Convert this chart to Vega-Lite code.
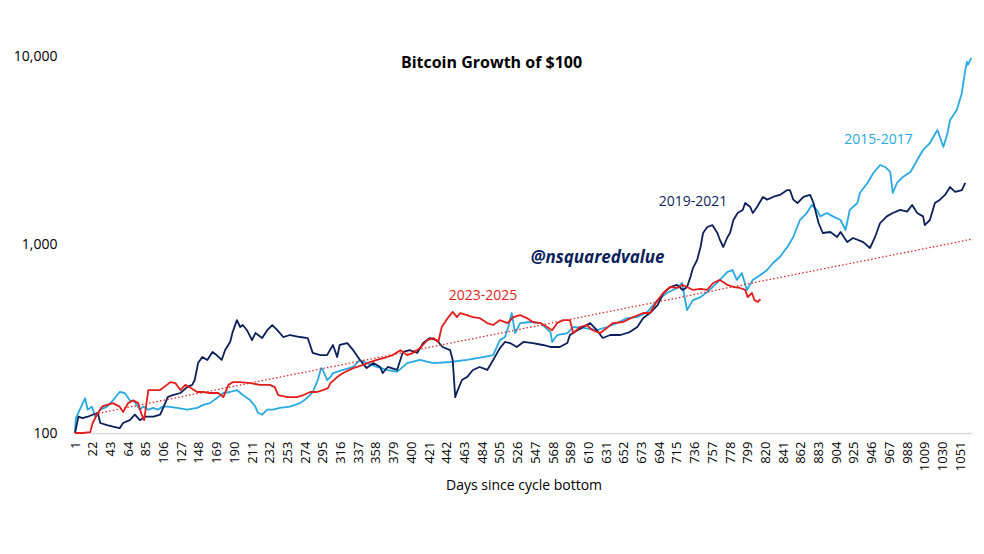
{
"$schema": "https://vega.github.io/schema/vega-lite/v6.json",
"width": 897, "height": 377,
"autosize": {"type": "none"},
"padding": {"left": 75, "top": 56, "right": 12, "bottom": 121},
"background": "white",
"config": {"view": {"stroke": null}, "font": "Open Sans", "axis": {"grid": false}},
"title": {"text": "Bitcoin Growth of $100", "anchor": "middle", "fontSize": 16, "fontWeight": "bold", "color": "#000000", "offset": -30, "dx": -32, "baseline": "middle", "font": "Open Sans"},
"datasets": {
"trend": [{"day": 20, "value": 125}, {"day": 1065, "value": 1067}],
"labels": [
{"label": "2015-2017", "series": "2015-2017", "day": 954, "value": 3570},
{"label": "2019-2021", "series": "2019-2021", "day": 734, "value": 1683},
{"label": "2023-2025", "series": "2023-2025", "day": 485, "value": 533}
],
"brand": [{"label": "@nsquaredvalue", "day": 621, "value": 848}],
"lines": [
{"series":"2015-2017","day":1,"value":100},{"series":"2015-2017","day":2,"value":120},{"series":"2015-2017","day":13,"value":153},{"series":"2015-2017","day":16,"value":133},{"series":"2015-2017","day":21,"value":138},{"series":"2015-2017","day":25,"value":122},{"series":"2015-2017","day":31,"value":133},{"series":"2015-2017","day":39,"value":138},{"series":"2015-2017","day":46,"value":149},{"series":"2015-2017","day":54,"value":165},{"series":"2015-2017","day":60,"value":163},{"series":"2015-2017","day":66,"value":149},{"series":"2015-2017","day":72,"value":146},{"series":"2015-2017","day":78,"value":133},{"series":"2015-2017","day":82,"value":138},{"series":"2015-2017","day":88,"value":133},{"series":"2015-2017","day":94,"value":136},{"series":"2015-2017","day":99,"value":133},{"series":"2015-2017","day":105,"value":138},{"series":"2015-2017","day":111,"value":138},{"series":"2015-2017","day":122,"value":136},{"series":"2015-2017","day":134,"value":133},{"series":"2015-2017","day":146,"value":136},{"series":"2015-2017","day":153,"value":141},{"series":"2015-2017","day":161,"value":144},{"series":"2015-2017","day":169,"value":153},{"series":"2015-2017","day":177,"value":163},{"series":"2015-2017","day":185,"value":165},{"series":"2015-2017","day":193,"value":169},{"series":"2015-2017","day":200,"value":159},{"series":"2015-2017","day":209,"value":149},{"series":"2015-2017","day":215,"value":138},{"series":"2015-2017","day":218,"value":128},{"series":"2015-2017","day":223,"value":125},{"series":"2015-2017","day":229,"value":133},{"series":"2015-2017","day":236,"value":133},{"series":"2015-2017","day":244,"value":136},{"series":"2015-2017","day":256,"value":138},{"series":"2015-2017","day":268,"value":144},{"series":"2015-2017","day":276,"value":153},{"series":"2015-2017","day":283,"value":165},{"series":"2015-2017","day":289,"value":191},{"series":"2015-2017","day":293,"value":221},{"series":"2015-2017","day":295,"value":216},{"series":"2015-2017","day":300,"value":191},{"series":"2015-2017","day":304,"value":198},{"series":"2015-2017","day":307,"value":208},{"series":"2015-2017","day":319,"value":216},{"series":"2015-2017","day":331,"value":224},{"series":"2015-2017","day":339,"value":244},{"series":"2015-2017","day":347,"value":235},{"series":"2015-2017","day":359,"value":224},{"series":"2015-2017","day":371,"value":216},{"series":"2015-2017","day":383,"value":211},{"series":"2015-2017","day":395,"value":235},{"series":"2015-2017","day":410,"value":244},{"series":"2015-2017","day":426,"value":235},{"series":"2015-2017","day":446,"value":238},{"series":"2015-2017","day":466,"value":244},{"series":"2015-2017","day":485,"value":253},{"series":"2015-2017","day":497,"value":259},{"series":"2015-2017","day":505,"value":311},{"series":"2015-2017","day":511,"value":323},{"series":"2015-2017","day":515,"value":365},{"series":"2015-2017","day":519,"value":433},{"series":"2015-2017","day":523,"value":339},{"series":"2015-2017","day":529,"value":383},{"series":"2015-2017","day":541,"value":388},{"series":"2015-2017","day":553,"value":383},{"series":"2015-2017","day":565,"value":343},{"series":"2015-2017","day":567,"value":304},{"series":"2015-2017","day":573,"value":331},{"series":"2015-2017","day":585,"value":339},{"series":"2015-2017","day":592,"value":365},{"series":"2015-2017","day":604,"value":361},{"series":"2015-2017","day":620,"value":351},{"series":"2015-2017","day":632,"value":365},{"series":"2015-2017","day":644,"value":383},{"series":"2015-2017","day":656,"value":407},{"series":"2015-2017","day":668,"value":412},{"series":"2015-2017","day":680,"value":439},{"series":"2015-2017","day":692,"value":507},{"series":"2015-2017","day":703,"value":553},{"series":"2015-2017","day":715,"value":588},{"series":"2015-2017","day":721,"value":625},{"series":"2015-2017","day":727,"value":449},{"series":"2015-2017","day":734,"value":507},{"series":"2015-2017","day":743,"value":526},{"series":"2015-2017","day":754,"value":574},{"series":"2015-2017","day":766,"value":649},{"series":"2015-2017","day":775,"value":715},{"series":"2015-2017","day":781,"value":732},{"series":"2015-2017","day":786,"value":649},{"series":"2015-2017","day":792,"value":706},{"series":"2015-2017","day":798,"value":574},{"series":"2015-2017","day":805,"value":649},{"series":"2015-2017","day":814,"value":689},{"series":"2015-2017","day":822,"value":732},{"series":"2015-2017","day":829,"value":798},{"series":"2015-2017","day":837,"value":858},{"series":"2015-2017","day":846,"value":970},{"series":"2015-2017","day":853,"value":1096},{"series":"2015-2017","day":861,"value":1349},{"series":"2015-2017","day":869,"value":1469},{"series":"2015-2017","day":875,"value":1620},{"series":"2015-2017","day":881,"value":1525},{"series":"2015-2017","day":885,"value":1410},{"series":"2015-2017","day":893,"value":1469},{"series":"2015-2017","day":900,"value":1410},{"series":"2015-2017","day":909,"value":1349},{"series":"2015-2017","day":915,"value":1194},{"series":"2015-2017","day":920,"value":1525},{"series":"2015-2017","day":929,"value":1660},{"series":"2015-2017","day":932,"value":1876},{"series":"2015-2017","day":941,"value":2120},{"series":"2015-2017","day":948,"value":2395},{"series":"2015-2017","day":956,"value":2640},{"series":"2015-2017","day":962,"value":2578},{"series":"2015-2017","day":968,"value":2425},{"series":"2015-2017","day":971,"value":1876},{"series":"2015-2017","day":976,"value":2120},{"series":"2015-2017","day":983,"value":2281},{"series":"2015-2017","day":992,"value":2425},{"series":"2015-2017","day":1000,"value":2808},{"series":"2015-2017","day":1007,"value":3172},{"series":"2015-2017","day":1015,"value":3455},{"series":"2015-2017","day":1024,"value":4050},{"series":"2015-2017","day":1027,"value":3720},{"series":"2015-2017","day":1031,"value":3290},{"series":"2015-2017","day":1036,"value":3904},{"series":"2015-2017","day":1039,"value":4580},{"series":"2015-2017","day":1047,"value":5170},{"series":"2015-2017","day":1053,"value":6365},{"series":"2015-2017","day":1057,"value":8430},{"series":"2015-2017","day":1059,"value":9300},{"series":"2015-2017","day":1060,"value":8980},{"series":"2015-2017","day":1064,"value":9760},
{"series":"2019-2021","day":1,"value":100},{"series":"2019-2021","day":5,"value":122},{"series":"2019-2021","day":10,"value":120},{"series":"2019-2021","day":16,"value":122},{"series":"2019-2021","day":22,"value":125},{"series":"2019-2021","day":28,"value":128},{"series":"2019-2021","day":31,"value":113},{"series":"2019-2021","day":39,"value":110},{"series":"2019-2021","day":46,"value":108},{"series":"2019-2021","day":54,"value":106},{"series":"2019-2021","day":58,"value":113},{"series":"2019-2021","day":66,"value":117},{"series":"2019-2021","day":72,"value":125},{"series":"2019-2021","day":78,"value":117},{"series":"2019-2021","day":84,"value":122},{"series":"2019-2021","day":94,"value":122},{"series":"2019-2021","day":102,"value":125},{"series":"2019-2021","day":108,"value":144},{"series":"2019-2021","day":111,"value":155},{"series":"2019-2021","day":117,"value":159},{"series":"2019-2021","day":126,"value":163},{"series":"2019-2021","day":134,"value":175},{"series":"2019-2021","day":140,"value":180},{"series":"2019-2021","day":143,"value":191},{"series":"2019-2021","day":147,"value":235},{"series":"2019-2021","day":152,"value":253},{"series":"2019-2021","day":158,"value":244},{"series":"2019-2021","day":164,"value":269},{"series":"2019-2021","day":169,"value":259},{"series":"2019-2021","day":175,"value":244},{"series":"2019-2021","day":179,"value":275},{"series":"2019-2021","day":185,"value":304},{"series":"2019-2021","day":188,"value":343},{"series":"2019-2021","day":193,"value":397},{"series":"2019-2021","day":197,"value":365},{"series":"2019-2021","day":200,"value":374},{"series":"2019-2021","day":205,"value":351},{"series":"2019-2021","day":211,"value":311},{"series":"2019-2021","day":215,"value":339},{"series":"2019-2021","day":223,"value":319},{"series":"2019-2021","day":229,"value":351},{"series":"2019-2021","day":235,"value":374},{"series":"2019-2021","day":241,"value":351},{"series":"2019-2021","day":248,"value":323},{"series":"2019-2021","day":256,"value":331},{"series":"2019-2021","day":268,"value":323},{"series":"2019-2021","day":277,"value":319},{"series":"2019-2021","day":283,"value":266},{"series":"2019-2021","day":292,"value":259},{"series":"2019-2021","day":300,"value":259},{"series":"2019-2021","day":307,"value":293},{"series":"2019-2021","day":312,"value":253},{"series":"2019-2021","day":315,"value":293},{"series":"2019-2021","day":324,"value":300},{"series":"2019-2021","day":331,"value":275},{"series":"2019-2021","day":339,"value":244},{"series":"2019-2021","day":347,"value":221},{"series":"2019-2021","day":355,"value":235},{"series":"2019-2021","day":363,"value":224},{"series":"2019-2021","day":366,"value":208},{"series":"2019-2021","day":372,"value":224},{"series":"2019-2021","day":383,"value":216},{"series":"2019-2021","day":390,"value":269},{"series":"2019-2021","day":398,"value":275},{"series":"2019-2021","day":407,"value":266},{"series":"2019-2021","day":414,"value":300},{"series":"2019-2021","day":422,"value":319},{"series":"2019-2021","day":430,"value":311},{"series":"2019-2021","day":437,"value":286},{"series":"2019-2021","day":446,"value":275},{"series":"2019-2021","day":449,"value":244},{"series":"2019-2021","day":452,"value":155},{"series":"2019-2021","day":455,"value":169},{"series":"2019-2021","day":460,"value":191},{"series":"2019-2021","day":466,"value":198},{"series":"2019-2021","day":473,"value":216},{"series":"2019-2021","day":481,"value":224},{"series":"2019-2021","day":490,"value":216},{"series":"2019-2021","day":497,"value":244},{"series":"2019-2021","day":505,"value":282},{"series":"2019-2021","day":511,"value":304},{"series":"2019-2021","day":517,"value":300},{"series":"2019-2021","day":525,"value":286},{"series":"2019-2021","day":533,"value":304},{"series":"2019-2021","day":544,"value":300},{"series":"2019-2021","day":556,"value":293},{"series":"2019-2021","day":565,"value":286},{"series":"2019-2021","day":576,"value":286},{"series":"2019-2021","day":585,"value":300},{"series":"2019-2021","day":588,"value":331},{"series":"2019-2021","day":597,"value":351},{"series":"2019-2021","day":604,"value":365},{"series":"2019-2021","day":612,"value":383},{"series":"2019-2021","day":620,"value":351},{"series":"2019-2021","day":627,"value":319},{"series":"2019-2021","day":636,"value":331},{"series":"2019-2021","day":648,"value":331},{"series":"2019-2021","day":659,"value":343},{"series":"2019-2021","day":668,"value":365},{"series":"2019-2021","day":675,"value":407},{"series":"2019-2021","day":683,"value":433},{"series":"2019-2021","day":692,"value":477},{"series":"2019-2021","day":699,"value":553},{"series":"2019-2021","day":707,"value":595},{"series":"2019-2021","day":715,"value":610},{"series":"2019-2021","day":722,"value":574},{"series":"2019-2021","day":727,"value":595},{"series":"2019-2021","day":731,"value":672},{"series":"2019-2021","day":734,"value":750},{"series":"2019-2021","day":739,"value":828},{"series":"2019-2021","day":743,"value":970},{"series":"2019-2021","day":746,"value":1151},{"series":"2019-2021","day":751,"value":1238},{"series":"2019-2021","day":757,"value":1268},{"series":"2019-2021","day":763,"value":1151},{"series":"2019-2021","day":766,"value":1057},{"series":"2019-2021","day":770,"value":970},{"series":"2019-2021","day":775,"value":1096},{"series":"2019-2021","day":778,"value":1151},{"series":"2019-2021","day":782,"value":1349},{"series":"2019-2021","day":787,"value":1469},{"series":"2019-2021","day":793,"value":1525},{"series":"2019-2021","day":796,"value":1660},{"series":"2019-2021","day":802,"value":1580},{"series":"2019-2021","day":805,"value":1469},{"series":"2019-2021","day":810,"value":1580},{"series":"2019-2021","day":817,"value":1787},{"series":"2019-2021","day":822,"value":1730},{"series":"2019-2021","day":829,"value":1787},{"series":"2019-2021","day":837,"value":1832},{"series":"2019-2021","day":846,"value":1945},{"series":"2019-2021","day":849,"value":1945},{"series":"2019-2021","day":853,"value":1730},{"series":"2019-2021","day":858,"value":1660},{"series":"2019-2021","day":865,"value":1787},{"series":"2019-2021","day":873,"value":1832},{"series":"2019-2021","day":877,"value":1660},{"series":"2019-2021","day":883,"value":1300},{"series":"2019-2021","day":888,"value":1151},{"series":"2019-2021","day":897,"value":1165},{"series":"2019-2021","day":905,"value":1096},{"series":"2019-2021","day":909,"value":1165},{"series":"2019-2021","day":917,"value":1030},{"series":"2019-2021","day":924,"value":1083},{"series":"2019-2021","day":936,"value":1030},{"series":"2019-2021","day":944,"value":958},{"series":"2019-2021","day":950,"value":1096},{"series":"2019-2021","day":956,"value":1300},{"series":"2019-2021","day":964,"value":1410},{"series":"2019-2021","day":971,"value":1469},{"series":"2019-2021","day":980,"value":1525},{"series":"2019-2021","day":988,"value":1495},{"series":"2019-2021","day":994,"value":1620},{"series":"2019-2021","day":1000,"value":1469},{"series":"2019-2021","day":1007,"value":1410},{"series":"2019-2021","day":1009,"value":1268},{"series":"2019-2021","day":1015,"value":1349},{"series":"2019-2021","day":1021,"value":1660},{"series":"2019-2021","day":1027,"value":1730},{"series":"2019-2021","day":1033,"value":1832},{"series":"2019-2021","day":1039,"value":2017},{"series":"2019-2021","day":1045,"value":1900},{"series":"2019-2021","day":1053,"value":1945},{"series":"2019-2021","day":1057,"value":2120},
{"series":"2023-2025","day":1,"value":100},{"series":"2023-2025","day":10,"value":100},{"series":"2023-2025","day":19,"value":101},{"series":"2023-2025","day":22,"value":113},{"series":"2023-2025","day":27,"value":125},{"series":"2023-2025","day":33,"value":138},{"series":"2023-2025","day":39,"value":141},{"series":"2023-2025","day":46,"value":144},{"series":"2023-2025","day":54,"value":138},{"series":"2023-2025","day":58,"value":129},{"series":"2023-2025","day":64,"value":144},{"series":"2023-2025","day":70,"value":149},{"series":"2023-2025","day":76,"value":144},{"series":"2023-2025","day":80,"value":125},{"series":"2023-2025","day":83,"value":117},{"series":"2023-2025","day":88,"value":169},{"series":"2023-2025","day":94,"value":169},{"series":"2023-2025","day":102,"value":169},{"series":"2023-2025","day":110,"value":180},{"series":"2023-2025","day":114,"value":186},{"series":"2023-2025","day":120,"value":184},{"series":"2023-2025","day":126,"value":169},{"series":"2023-2025","day":132,"value":180},{"series":"2023-2025","day":137,"value":175},{"series":"2023-2025","day":146,"value":165},{"series":"2023-2025","day":153,"value":165},{"series":"2023-2025","day":161,"value":163},{"series":"2023-2025","day":171,"value":163},{"series":"2023-2025","day":177,"value":155},{"series":"2023-2025","day":183,"value":180},{"series":"2023-2025","day":188,"value":186},{"series":"2023-2025","day":197,"value":186},{"series":"2023-2025","day":209,"value":184},{"series":"2023-2025","day":220,"value":180},{"series":"2023-2025","day":232,"value":180},{"series":"2023-2025","day":238,"value":175},{"series":"2023-2025","day":242,"value":159},{"series":"2023-2025","day":253,"value":155},{"series":"2023-2025","day":264,"value":155},{"series":"2023-2025","day":272,"value":159},{"series":"2023-2025","day":280,"value":165},{"series":"2023-2025","day":288,"value":165},{"series":"2023-2025","day":295,"value":169},{"series":"2023-2025","day":301,"value":173},{"series":"2023-2025","day":304,"value":184},{"series":"2023-2025","day":312,"value":198},{"series":"2023-2025","day":319,"value":208},{"series":"2023-2025","day":331,"value":221},{"series":"2023-2025","day":343,"value":230},{"series":"2023-2025","day":351,"value":238},{"series":"2023-2025","day":359,"value":244},{"series":"2023-2025","day":371,"value":253},{"series":"2023-2025","day":378,"value":259},{"series":"2023-2025","day":387,"value":275},{"series":"2023-2025","day":395,"value":259},{"series":"2023-2025","day":402,"value":266},{"series":"2023-2025","day":410,"value":282},{"series":"2023-2025","day":419,"value":311},{"series":"2023-2025","day":426,"value":319},{"series":"2023-2025","day":432,"value":304},{"series":"2023-2025","day":436,"value":365},{"series":"2023-2025","day":440,"value":388},{"series":"2023-2025","day":444,"value":412},{"series":"2023-2025","day":449,"value":439},{"series":"2023-2025","day":454,"value":412},{"series":"2023-2025","day":458,"value":433},{"series":"2023-2025","day":466,"value":422},{"series":"2023-2025","day":473,"value":412},{"series":"2023-2025","day":481,"value":407},{"series":"2023-2025","day":490,"value":383},{"series":"2023-2025","day":497,"value":374},{"series":"2023-2025","day":505,"value":397},{"series":"2023-2025","day":514,"value":383},{"series":"2023-2025","day":521,"value":412},{"series":"2023-2025","day":529,"value":422},{"series":"2023-2025","day":537,"value":407},{"series":"2023-2025","day":544,"value":388},{"series":"2023-2025","day":553,"value":383},{"series":"2023-2025","day":561,"value":365},{"series":"2023-2025","day":567,"value":351},{"series":"2023-2025","day":573,"value":383},{"series":"2023-2025","day":580,"value":397},{"series":"2023-2025","day":588,"value":397},{"series":"2023-2025","day":592,"value":339},{"series":"2023-2025","day":600,"value":365},{"series":"2023-2025","day":608,"value":374},{"series":"2023-2025","day":615,"value":351},{"series":"2023-2025","day":624,"value":339},{"series":"2023-2025","day":632,"value":361},{"series":"2023-2025","day":639,"value":383},{"series":"2023-2025","day":651,"value":388},{"series":"2023-2025","day":663,"value":412},{"series":"2023-2025","day":675,"value":433},{"series":"2023-2025","day":683,"value":433},{"series":"2023-2025","day":692,"value":507},{"series":"2023-2025","day":699,"value":553},{"series":"2023-2025","day":707,"value":595},{"series":"2023-2025","day":715,"value":588},{"series":"2023-2025","day":722,"value":610},{"series":"2023-2025","day":734,"value":574},{"series":"2023-2025","day":743,"value":582},{"series":"2023-2025","day":751,"value":574},{"series":"2023-2025","day":758,"value":625},{"series":"2023-2025","day":766,"value":649},{"series":"2023-2025","day":775,"value":610},{"series":"2023-2025","day":782,"value":595},{"series":"2023-2025","day":790,"value":588},{"series":"2023-2025","day":796,"value":574},{"series":"2023-2025","day":799,"value":526},{"series":"2023-2025","day":804,"value":553},{"series":"2023-2025","day":807,"value":507},{"series":"2023-2025","day":811,"value":496},{"series":"2023-2025","day":814,"value":513}
]
},
"encoding": {
"x": {"field": "day", "type": "quantitative",
 "scale": {"domain": [1, 1065], "nice": false, "zero": false},
 "axis": {"values": [1,22,43,64,85,106,127,148,169,190,211,232,253,274,295,316,337,358,379,400,421,442,463,484,505,526,547,568,589,610,631,652,673,694,715,736,757,778,799,820,841,862,883,904,925,946,967,988,1009,1030,1051],
  "format": "d",
  "labelAngle": -90, "labelFontSize": 13, "labelColor": "#000000", "labelFont": "Open Sans", "ticks": false,
  "domainColor": "#d9d9d9", "domainWidth": 1.5, "labelPadding": 8, "labelOverlap": false, "labelFlush": false, "labelBound": false,
  "title": "Days since cycle bottom", "titleFontSize": 14, "titleFontWeight": "normal", "titleColor": "#000000", "titleFont": "Open Sans", "titlePadding": 8}},
"y": {"field": "value", "type": "quantitative",
 "scale": {"type": "log", "domain": [100, 10000], "nice": false},
 "axis": {"values": [100, 1000, 10000], "format": ",", "domain": false, "ticks": false, "labelFontSize": 14, "labelColor": "#000000", "labelFont": "Open Sans", "labelPadding": 18, "title": null}}
},
"layer": [
{"data": {"name": "lines"}, "mark": {"type": "line", "strokeWidth": 1.8, "strokeJoin": "round"},
 "encoding": {"color": {"field": "series", "type": "nominal", "scale": {"domain": ["2015-2017", "2019-2021", "2023-2025"], "range": ["#29a9e1", "#0c1f5b", "#e31d1a"]}, "legend": null}}},
{"data": {"name": "trend"}, "mark": {"type": "line", "color": "#d42a2a", "strokeWidth": 1.3, "strokeDash": [1.5, 2.2]}, "encoding": {}},
{"data": {"name": "labels"}, "mark": {"type": "text", "fontSize": 14, "font": "Open Sans", "align": "center", "baseline": "middle"},
 "encoding": {"text": {"field": "label"}, "color": {"field": "series", "type": "nominal", "scale": {"domain": ["2015-2017", "2019-2021", "2023-2025"], "range": ["#29a9e1", "#0c1f5b", "#e31d1a"]}, "legend": null}}},
{"data": {"name": "brand"}, "mark": {"type": "text", "fontSize": 17, "font": "Open Sans", "fontWeight": "bold", "fontStyle": "italic", "color": "#0c1f5b", "align": "center", "baseline": "middle"},
 "encoding": {"text": {"field": "label"}}}
]
}
